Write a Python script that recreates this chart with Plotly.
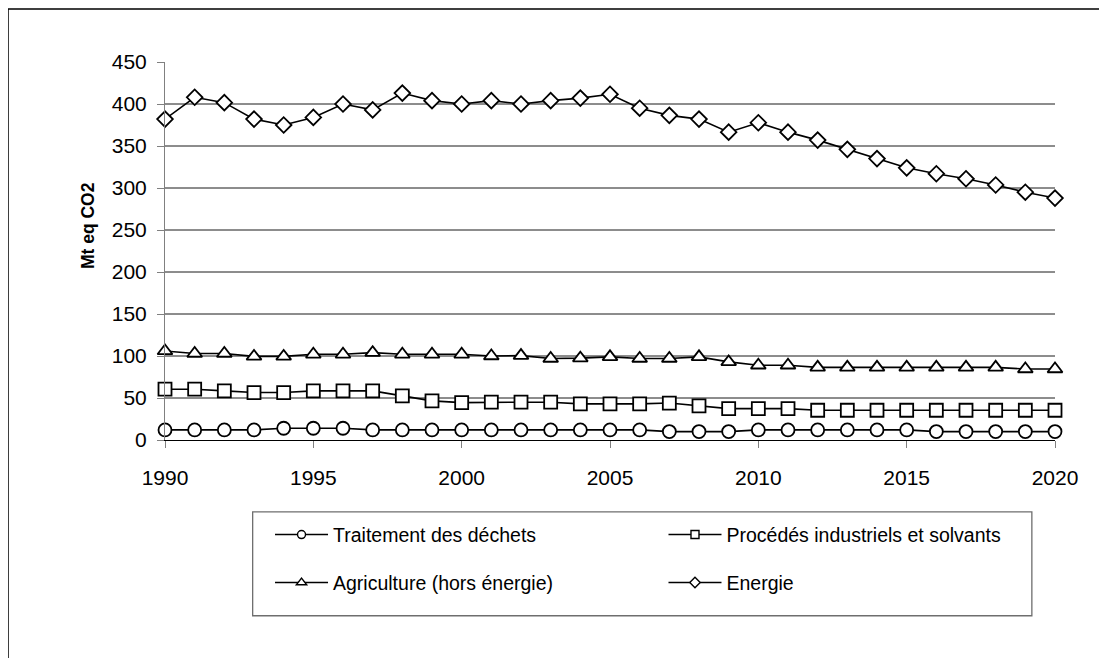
import plotly.graph_objects as go

years = list(range(1990, 2021))

dechets = [12, 12, 12, 12, 14, 14, 14, 12, 12, 12, 12, 12, 12, 12, 12,
           12, 12, 10, 10, 10, 12, 12, 12, 12, 12, 12, 10, 10, 10, 10, 10]
procedes = [60.5, 60.5, 58.5, 56.5, 56.5, 58.5, 58.5, 58.5, 52.5, 46.6, 44.5, 45, 45, 45, 43,
            43, 43, 44, 40.6, 37.4, 37.4, 37.4, 35.4, 35.4, 35.4, 35.4, 35.4, 35.4, 35.4, 35.4, 35.4]
agriculture = [106, 103, 103, 99.5, 99.5, 102, 102, 104, 102, 102, 102, 100, 100.5, 97, 97.5,
               99, 97, 97, 99, 93, 89, 89, 86.5, 86.5, 86.5, 86.5, 86.5, 86.5, 86.5, 84.5, 84.5]
energie = [382, 408, 401.6, 382, 375, 384, 400, 393, 413, 404, 400, 404, 400, 404, 407,
           411.6, 395, 386.5, 382, 366.5, 377.7, 366.5, 357, 346, 335, 324, 317, 311, 303.6, 295, 288]

series_names = ["Traitement des déchets", "Procédés industriels et solvants",
                "Agriculture (hors énergie)", "Energie"]
series_values = [dechets, procedes, agriculture, energie]
symbols = ["circle", "square", "triangle-up", "diamond"]
plot_sizes = [13, 13, 13, 12]
legend_sizes = [8, 8, 9, 8]
legend_ids = ["legend", "legend2", "legend3", "legend4"]
# legend grid placement (paper coords): column x, row y
legend_x = [0.118, 0.5601, 0.118, 0.5601]
legend_y = [-0.251, -0.251, -0.378, -0.378]

y_ticks = list(range(0, 451, 50))
grid_values = list(range(50, 401, 50))
x_ticks = list(range(1990, 2021, 5))

FONT = "Arial, Liberation Sans, sans-serif"

fig = go.Figure()
for name, vals, sym, ps, ls, lid in zip(series_names, series_values, symbols,
                                        plot_sizes, legend_sizes, legend_ids):
    fig.add_trace(go.Scatter(
        x=years, y=vals, mode="lines+markers", name=name, legendgroup=name,
        showlegend=False, cliponaxis=False,
        line=dict(color="black", width=1.6),
        marker=dict(symbol=sym, size=ps, color="white",
                    line=dict(color="black", width=1.8)),
    ))
    fig.add_trace(go.Scatter(
        x=[None], y=[None], mode="lines+markers", name=name, legendgroup=name,
        showlegend=True, legend=lid,
        line=dict(color="black", width=1.6),
        marker=dict(symbol=sym, size=ls, color="white",
                    line=dict(color="black", width=1.4)),
    ))

shapes = []
for g in grid_values:
    shapes.append(dict(type="line", xref="paper", yref="y", x0=0, x1=1, y0=g, y1=g,
                       line=dict(color="#1a1a1a", width=1), layer="below"))
# legend box
shapes.append(dict(type="rect", xref="paper", yref="paper",
                   x0=0.0985, x1=0.974, y0=-0.465, y1=-0.19,
                   line=dict(color="#6e6e6e", width=1.3), fillcolor="rgba(0,0,0,0)"))
# outer chart border
shapes.append(dict(type="rect", xref="paper", yref="paper",
                   x0=-0.1764, x1=1.1, y0=-0.65, y1=1.140,
                   line=dict(color="black", width=1.5), fillcolor="rgba(0,0,0,0)"))

legend_common = dict(orientation="h", xanchor="left", yanchor="middle",
                     bgcolor="rgba(0,0,0,0)", borderwidth=0,
                     font=dict(family=FONT, size=19.5, color="black"),
                     itemwidth=53, itemclick="toggle")

legends = {}
for lid, lx, ly in zip(legend_ids, legend_x, legend_y):
    legends[lid] = dict(x=lx, y=ly, **legend_common)

fig.update_layout(
    width=1107, height=658,
    margin=dict(l=157, r=60, t=54, b=226),
    paper_bgcolor="white", plot_bgcolor="white",
    font=dict(family=FONT, color="black"),
    showlegend=True,
    shapes=shapes,
    xaxis=dict(range=[1990, 2020], tickvals=x_ticks, ticks="outside", ticklen=7,
               tickcolor="#808080", showgrid=False, zeroline=False,
               showline=True, linecolor="black", linewidth=1,
               tickfont=dict(family=FONT, size=21, color="black"),
               ticklabelstandoff=12),
    yaxis=dict(range=[0, 450], tickvals=y_ticks, ticks="outside", ticklen=7,
               tickcolor="#808080", showgrid=False, zeroline=False,
               showline=True, linecolor="#808080", linewidth=1,
               tickfont=dict(family=FONT, size=21, color="black"),
               ticklabelstandoff=6),
    annotations=[dict(text="<b>Mt eq CO2</b>", xref="paper", yref="paper",
                      x=-0.0865, y=0.566, textangle=-90, showarrow=False,
                      font=dict(family=FONT, size=17.5, color="black"),
                      xanchor="center", yanchor="middle")],
    **legends,
)

fig.write_html("out.html")
